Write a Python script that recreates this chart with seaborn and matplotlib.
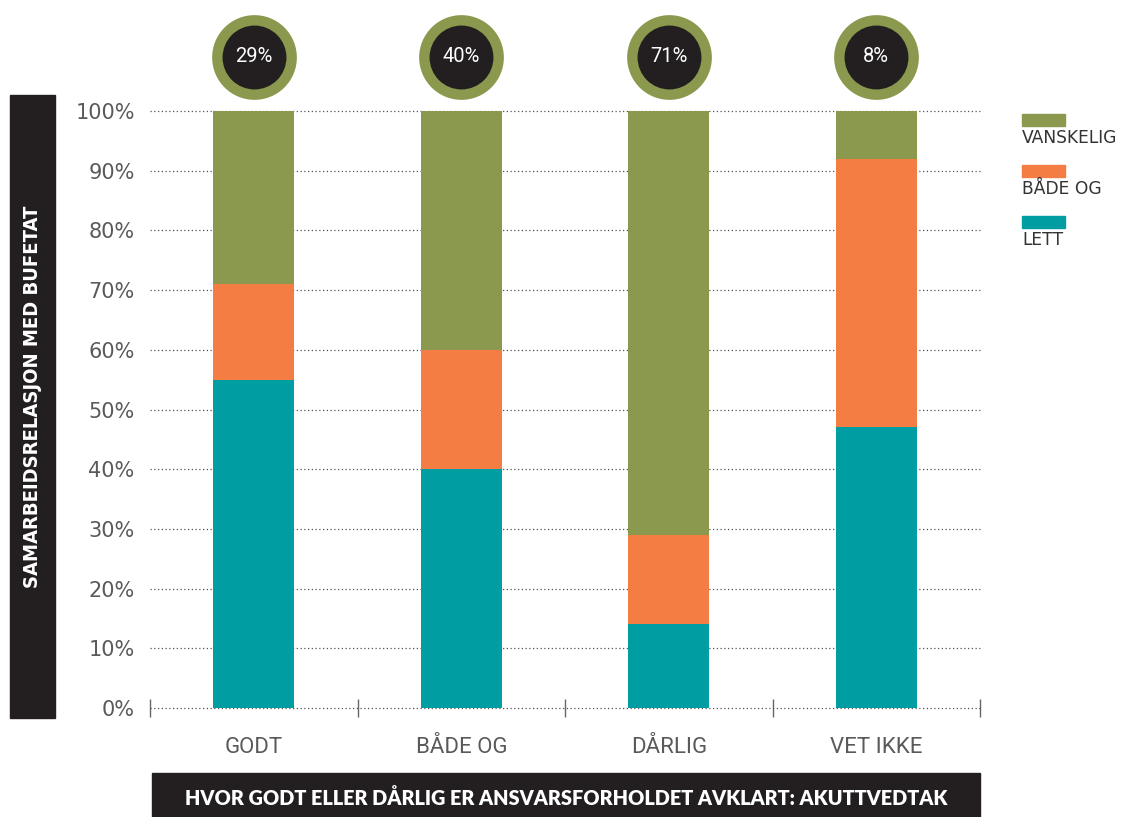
import matplotlib
matplotlib.use("Agg")
import matplotlib.pyplot as plt
import matplotlib.transforms as mtransforms
from matplotlib.patches import Rectangle
import numpy as np
import pandas as pd
import seaborn as sns

# Data
categories = ["GODT", "BÅDE OG", "DÅRLIG", "VET IKKE"]
series_names = ["VANSKELIG", "BÅDE OG", "LETT"]
lett = [55, 40, 14, 47]
baade_og = [16, 20, 15, 45]
vanskelig = [29, 40, 71, 8]
circle_labels = ["29%", "40%", "71%", "8%"]
y_ticks = [0, 10, 20, 30, 40, 50, 60, 70, 80, 90, 100]
y_title = "SAMARBEIDSRELASJON MED BUFETAT"
x_title = "HVOR GODT ELLER DÅRLIG ER ANSVARSFORHOLDET AVKLART: AKUTTVEDTAK"

GREEN = "#8A994E"
ORANGE = "#F47D44"
TEAL = "#009EA3"
DARK = "#231F20"
GREY_TXT = "#5A5A5A"

sns.set_theme(style="white")
plt.rcParams["font.family"] = ["Roboto", "DejaVu Sans"]

df = pd.DataFrame({
    "kategori": categories,
    "LETT": lett,
    "BÅDE OG": baade_og,
    "VANSKELIG": vanskelig,
})
df["c_lett"] = df["LETT"]
df["c_baade"] = df["LETT"] + df["BÅDE OG"]
df["c_vansk"] = df["c_baade"] + df["VANSKELIG"]

fig = plt.figure(figsize=(11.21, 8.17), dpi=100)
ax = fig.add_axes([150 / 1121, 1 - 708 / 817, 830 / 1121, 597 / 817])

bar_w = 0.39
for col, color in [("c_vansk", GREEN), ("c_baade", ORANGE), ("c_lett", TEAL)]:
    sns.barplot(data=df, x="kategori", y=col, color=color, width=bar_w,
                saturation=1, ax=ax, zorder=3, linewidth=0)

ax.set_xlim(-0.5, len(categories) - 0.5)
ax.set_ylim(0, 100)
ax.set_yticks(y_ticks)
ax.set_yticklabels([f"{v}%" for v in y_ticks], family=["DejaVu Sans"])
ax.set_xlabel("")
ax.set_ylabel("")
for s in ax.spines.values():
    s.set_visible(False)

ax.yaxis.grid(True, linestyle=(0, (1, 2)), color="#555555", linewidth=0.9, zorder=0)
for gl in ax.get_ygridlines():
    gl.set_clip_on(False)
ax.set_axisbelow(True)
ax.tick_params(axis="y", length=0, pad=11, labelsize=15, labelcolor=GREY_TXT)
ax.tick_params(axis="x", which="major", length=0, pad=21, labelsize=16, labelcolor=GREY_TXT)
ax.set_xticks(np.arange(-0.5, len(categories)), minor=True)
ax.tick_params(axis="x", which="minor", direction="inout", length=13, width=1.0,
               color="#666666", bottom=True)

# Circles above each bar showing the VANSKELIG share
trans = mtransforms.blended_transform_factory(ax.transData, fig.transFigure)
cy = 1 - 57 / 817
xs = np.arange(len(categories))
ax.scatter(xs, [cy] * len(xs), s=61 ** 2, color=GREEN, transform=trans,
           clip_on=False, zorder=5, linewidths=0)
ax.scatter(xs, [cy] * len(xs), s=46 ** 2, color=DARK, transform=trans,
           clip_on=False, zorder=6, linewidths=0)
for x, lab in zip(xs, circle_labels):
    ax.text(x, cy, lab, transform=trans, ha="center", va="center",
            color="white", fontsize=14.5, zorder=7)

# Vertical title bar on the left
fig.patches.append(Rectangle((10 / 1121, 1 - 718 / 817), 45 / 1121, 623 / 817,
                             transform=fig.transFigure, color=DARK, zorder=0))
fig.text(32.5 / 1121, 1 - 397 / 817, y_title, rotation=90, ha="center", va="center",
         color="white", fontsize=14.5, fontweight="bold", fontstretch="condensed",
         family=["DejaVu Sans"])

# Horizontal title bar at the bottom
fig.patches.append(Rectangle((152 / 1121, 0), 828 / 1121, 44 / 817,
                             transform=fig.transFigure, color=DARK, zorder=0))
fig.text(566 / 1121, 1 - 798 / 817, x_title, ha="center", va="center",
         color="white", fontsize=14.3, fontweight="heavy", family=["Lato", "DejaVu Sans"])

# Legend: colour swatch with label underneath
legend_colors = [GREEN, ORANGE, TEAL]
for i, (name, c) in enumerate(zip(series_names, legend_colors)):
    top = 114 + i * 51
    fig.patches.append(Rectangle((1022 / 1121, 1 - (top + 12) / 817), 43 / 1121, 12 / 817,
                                 transform=fig.transFigure, color=c))
    fig.text(1022 / 1121, 1 - (top + 24) / 817, name, ha="left", va="center",
             color="#333333", fontsize=12.3, family=["DejaVu Sans"])

fig.savefig("out.png", dpi=100)
